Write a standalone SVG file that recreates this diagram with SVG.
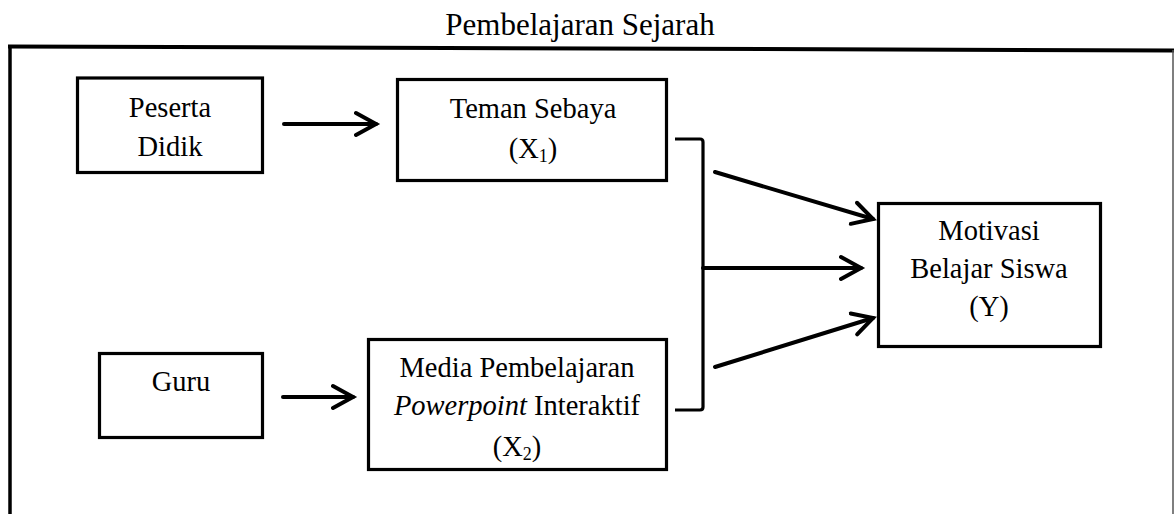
<svg xmlns="http://www.w3.org/2000/svg" width="1174" height="514" viewBox="0 0 1174 514">
<style>
text{font-family:"Liberation Serif","Times New Roman",serif;font-size:28.5px;fill:#000;text-anchor:middle}
.box{fill:#fff;stroke:#000;stroke-width:3.2}
.conn{fill:none;stroke:#000;stroke-width:4;stroke-linecap:round}
.br{fill:none;stroke:#000;stroke-width:3.2;stroke-linejoin:round}
.sub{font-size:18px}
</style>
<defs>
<marker id="ah" markerUnits="userSpaceOnUse" markerWidth="30" markerHeight="30" refX="22" refY="12" orient="auto" viewBox="0 0 30 24">
<path d="M2,1 L22,12 L2,23" fill="none" stroke="#000" stroke-width="4" stroke-linecap="round" stroke-linejoin="miter"/>
</marker>
</defs>
<rect width="1174" height="514" fill="#fff"/>
<g id="frame">
<text x="580" y="35" style="font-size:31px">Pembelajaran Sejarah</text>
<line x1="8" y1="46.5" x2="1174" y2="50.5" stroke="#000" stroke-width="4"/>
<line x1="10" y1="45" x2="10" y2="514" stroke="#000" stroke-width="3.5"/>
<line x1="1173" y1="50" x2="1173" y2="514" stroke="#555" stroke-width="1.5"/>
</g>
<g id="peserta">
<rect class="box" x="77.5" y="78" width="185" height="94.5"/>
<text x="170" y="117">Peserta</text>
<text x="170" y="156">Didik</text>
</g>
<g id="teman">
<rect class="box" x="397.5" y="79.5" width="269" height="101"/>
<text x="533" y="118">Teman Sebaya</text>
<text x="533" y="158">(X<tspan class="sub" dy="4">1</tspan><tspan dy="-4">)</tspan></text>
</g>
<g id="guru">
<rect class="box" x="99.5" y="353.5" width="163" height="84"/>
<text x="181" y="391">Guru</text>
</g>
<g id="media">
<rect class="box" x="368.5" y="339.5" width="298" height="130"/>
<text x="517" y="377">Media Pembelajaran</text>
<text x="517" y="415"><tspan font-style="italic">Powerpoint</tspan> Interaktif</text>
<text x="517" y="456">(X<tspan class="sub" dy="4">2</tspan><tspan dy="-4">)</tspan></text>
</g>
<g id="motivasi">
<rect class="box" x="878.5" y="203.5" width="222" height="143"/>
<text x="989" y="240">Motivasi</text>
<text x="989" y="278">Belajar Siswa</text>
<text x="989" y="316">(Y)</text>
</g>
<g id="connectors">
<line class="conn" x1="284" y1="124" x2="376" y2="124" marker-end="url(#ah)"/>
<line class="conn" x1="283" y1="397" x2="353" y2="397" marker-end="url(#ah)"/>
<path class="br" d="M675,139 H700 Q703,139 703,142 V407 Q703,410 700,410 H675"/>
<line class="conn" x1="715" y1="172" x2="873" y2="219" marker-end="url(#ah)"/>
<line class="conn" x1="703" y1="268" x2="861" y2="268" marker-end="url(#ah)"/>
<line class="conn" x1="715" y1="367" x2="873" y2="318" marker-end="url(#ah)"/>
</g>
</svg>
